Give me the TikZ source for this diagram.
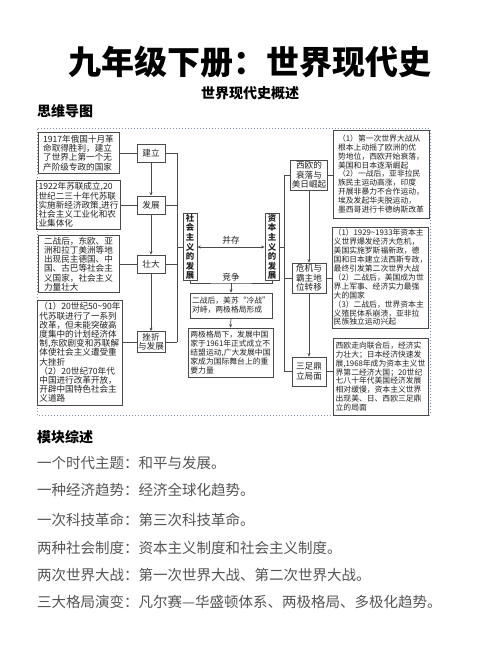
\documentclass[tikz,border=0pt]{standalone}
\usepackage{fontspec}
\setmainfont{Noto Sans CJK SC}
\usetikzlibrary{arrows.meta}
\definecolor{ink}{HTML}{222222}
\definecolor{edgec}{HTML}{4A4A4A}
\definecolor{framec}{HTML}{7F8FA6}
\definecolor{bodyc}{HTML}{555555}
\begin{document}
\begin{tikzpicture}[x=1pt,y=-1pt,
  ltxt/.style={draw=edgec, line width=0.7pt, align=left, inner xsep=2pt, inner ysep=1pt, font=\fontsize{8.6}{9.2}\selectfont, text=ink},
  rtxt/.style={draw=edgec, line width=0.7pt, align=left, inner xsep=1.5pt, inner ysep=1pt, font=\fontsize{7.8}{8.9}\selectfont, text=ink},
  key/.style={draw=edgec, line width=0.7pt, align=center, inner sep=1pt, font=\fontsize{8.6}{9.4}\selectfont, text=ink},
  vbox/.style={draw=edgec, line width=0.8pt, align=center, inner sep=1pt, font=\bfseries\fontsize{8.4}{9.6}\selectfont, text=ink, minimum width=14, minimum height=61},
  con/.style={draw=edgec, line width=0.7pt},
  arr/.style={con, -{Stealth[length=3.5pt,width=3pt]}},
  arrs/.style={con, {Stealth[length=3.5pt,width=3pt]}-{Stealth[length=3.5pt,width=3pt]}},
  lbl/.style={font=\fontsize{8.6}{9}\selectfont, text=ink, inner sep=1pt},
  head/.style={anchor=west, font=\bfseries\fontsize{14}{16}\selectfont, inner sep=0pt},
  sumline/.style={anchor=west, font=\fontsize{14.5}{16}\selectfont, text=bodyc, inner sep=0pt},
]
\fill[white] (0,0) rectangle (500,652);
\useasboundingbox (0,0) rectangle (500,652);

% headings
\node[font=\bfseries\fontsize{33}{36}\selectfont] (title) at (250,62) {九年级下册：世界现代史};
\node[font=\bfseries\fontsize{14}{16}\selectfont] (sub) at (250,93) {世界现代史概述};
\node[head] (mind) at (37,111) {思维导图};

% dotted frame
\draw[framec, dotted, line width=1pt] (37,129) rectangle (430,415);

% left text boxes
\node[ltxt, minimum width=81, minimum height=41] (L1) at (78.5,153) {1917年俄国十月革\\命取得胜利，建立\\了世界上第一个无\\产阶级专政的国家};
\node[ltxt, minimum width=81, minimum height=49] (L2) at (78.5,205) {1922年苏联成立,20\\世纪二三十年代苏联\\实施新经济政策,进行\\社会主义工业化和农\\业集体化};
\node[ltxt, minimum width=81, minimum height=57] (L3) at (78.5,264) {二战后，东欧、亚\\洲和拉丁美洲等地\\出现民主德国、中\\国、古巴等社会主\\义国家，社会主义\\力量壮大};
\node[ltxt, minimum width=84, minimum height=105] (L4) at (80,352.5) {（1）20世纪50\char"007E 90年\\代苏联进行了一系列\\改革，但未能突破高\\度集中的计划经济体\\制,东欧剧变和苏联解\\体使社会主义遭受重\\大挫折\\（2）20世纪70年代\\中国进行改革开放，\\开辟中国特色社会主\\义道路};

% stage boxes
\node[key, minimum width=28, minimum height=18] (jl) at (151,153) {建立};
\node[key, minimum width=28, minimum height=18] (fz) at (151,205) {发展};
\node[key, minimum width=28, minimum height=18] (zd) at (151,264) {壮大};
\node[key, minimum width=28, minimum height=21] (cz) at (151,342) {挫折\\与发展};

\draw[con] (L1.east) -- (jl.west);
\draw[con] (L2.east) -- (fz.west);
\draw[con] (L3.east) -- (zd.west);
\draw[con] (cz.west) -- (cz.west -| L4.east);
\draw[arr] (jl) -- (fz);
\draw[arr] (fz) -- (zd);
\draw[arr] (zd) -- (cz);

% left bus
\coordinate (bl1) at (177,153);
\coordinate (bl4) at (177,342);
\draw[con] (bl1) -- (bl4);
\draw[con] (jl.east) -- (bl1);
\draw[con] (fz.east) -- (fz.east -| bl1);
\draw[con] (zd.east) -- (zd.east -| bl1);
\draw[con] (cz.east) -- (bl4);

% central vertical boxes
\node[vbox] (SH) at (190,247) {社\\会\\主\\义\\的\\发\\展};
\node[vbox] (ZB) at (272,247) {资\\本\\主\\义\\的\\发\\展};
\draw[con] (SH.west -| bl1) -- (SH.west);
\draw[arrs] (SH.east) -- (ZB.west);
\node[lbl] (bc) at (231,240) {并存};
\coordinate (jz) at (231,283);
\draw[con] (SH.south) |- (jz) -| (ZB.south);
\node[lbl, anchor=south] (jzl) at (231,282) {竞争};

\node[rtxt, minimum width=82, minimum height=25] (M1) at (231,305.5) {二战后，美苏“冷战”\\对峙，两极格局形成};
\node[rtxt, minimum width=85, minimum height=49] (M2) at (230.5,352.5) {两极格局下，发展中国\\家于1961年正式成立不\\结盟运动,广大发展中国\\家成为国际舞台上的重\\要力量};
\draw[arr] (jz) -- (M1.north);
\draw[arr] (M1.south) -- (M2.north);

% right stage boxes
\node[key, minimum width=34, minimum height=30] (W1) at (309,175) {西欧的\\衰落与\\美日崛起};
\node[key, minimum width=34, minimum height=30] (W2) at (309,278) {危机与\\霸主地\\位转移};
\node[key, minimum width=34, minimum height=29] (W3) at (309,371.5) {三足鼎\\立局面};
\draw[arr] (W1) -- (W2);
\draw[arr] (W2) -- (W3);

% right bus
\coordinate (br1) at (284,175);
\coordinate (br3) at (284,371.5);
\draw[con] (br1) -- (br3);
\draw[con] (ZB.east) -- (ZB.east -| br1);
\draw[con] (br1) -- (W1.west);
\draw[con] (W2.west -| br1) -- (W2.west);
\draw[con] (br3) -- (W3.west);

% right text boxes
\node[rtxt, minimum width=96, minimum height=88] (R1) at (381,174) {（1）第一次世界大战从\\根本上动摇了欧洲的优\\势地位，西欧开始衰落，\\美国和日本逐渐崛起\\（2）一战后，亚非拉民\\族民主运动高涨，印度\\开展非暴力不合作运动，\\埃及发起华夫脱运动，\\墨西哥进行卡德纳斯改革};
\node[rtxt, minimum width=95, minimum height=101] (R2) at (380.5,277.5) {（1）1929\char"007E 1933年资本主\\义世界爆发经济大危机，\\美国实施罗斯福新政，德\\国和日本建立法西斯专政，\\最终引发第二次世界大战\\（2）二战后，美国成为世\\界上军事、经济实力最强\\大的国家\\（3）二战后，世界资本主\\义殖民体系崩溃，亚非拉\\民族独立运动兴起};
\node[rtxt, minimum width=95, minimum height=77] (R3) at (380.5,376.5) {西欧走向联合后，经济实\\力壮大；日本经济快速发\\展,1968年成为资本主义世\\界第二经济大国；20世纪\\七八十年代美国经济发展\\相对缓慢，资本主义世界\\出现美、日、西欧三足鼎\\立的局面};
\draw[con] (W1.east) -- (W1.east -| R1.west);
\draw[con] (W2.east) -- (W2.east -| R2.west);
\draw[con] (W3.east) -- (W3.east -| R3.west);

% summary
\node[head] (mk) at (37,437) {模块综述};
\node[sumline] (s1) at (37,463) {一个时代主题：和平与发展。};
\node[sumline] (s2) at (37,490) {一种经济趋势：经济全球化趋势。};
\node[sumline] (s3) at (37,520) {一次科技革命：第三次科技革命。};
\node[sumline] (s4) at (37,548) {两种社会制度：资本主义制度和社会主义制度。};
\node[sumline] (s5) at (37,575) {两次世界大战：第一次世界大战、第二次世界大战。};
\node[sumline] (s6) at (37,602) {三大格局演变：凡尔赛—华盛顿体系、两极格局、多极化趋势。};
\end{tikzpicture}
\end{document}
